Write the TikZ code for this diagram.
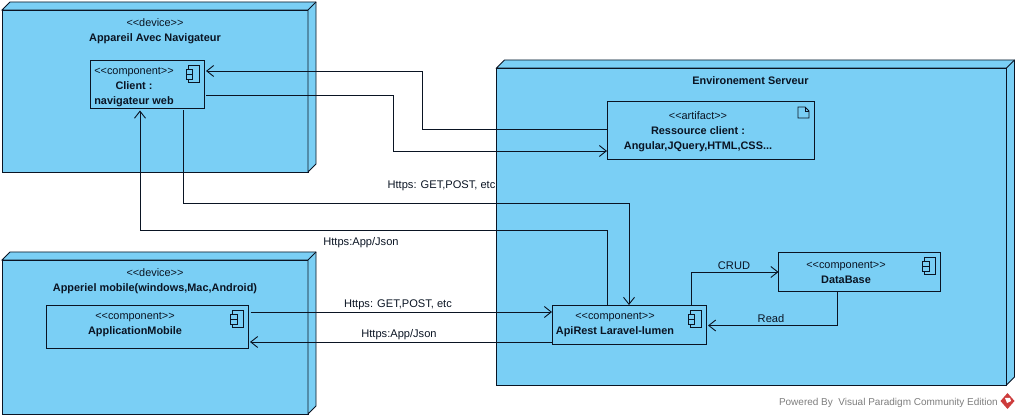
\documentclass[tikz,border=0pt]{standalone}
\usepackage{fontspec}
\setmainfont{Liberation Sans}
\usetikzlibrary{arrows.meta}
\definecolor{nodeblue}{RGB}{122, 207, 245}
\definecolor{inkdark}{RGB}{10, 20, 35}
\definecolor{creditgrey}{RGB}{125, 125, 125}
\definecolor{logored}{RGB}{205, 60, 60}
\newcommand{\stereo}[1]{<{}<#1>{}>}
\tikzset{
  block/.style={draw=inkdark, fill=nodeblue, line width=0.9pt, inner sep=0pt, outer sep=0pt},
  caption/.style={inner sep=0pt, text=inkdark, align=center, font=\fontsize{10.9}{15}\selectfont},
  linktext/.style={inner sep=0pt, text=inkdark, font=\fontsize{11.1}{13}\selectfont},
  link/.style={draw=inkdark, line width=0.9pt},
  linkto/.style={link, -{Straight Barb[length=7pt,width=11pt,line width=0.9pt]}},
}

\begin{document}
\begin{tikzpicture}[x=1pt, y=-1pt]
            \useasboundingbox (0,0) rectangle (1020,419);

            % Devices
            \node[block, minimum width=306pt, minimum height=162pt] (devA) at (155,91) {};
            \node[block, minimum width=306pt, minimum height=154pt] (devB) at (155,337) {};
            \node[block, minimum width=510pt, minimum height=317pt] (server) at (751.5,226.5) {};

            % Depth of the boxes
            \foreach \dev in {devA,devB,server} {
              \draw[block] (\dev.north west) -- ++(8,-8) -- ([shift={(8,-8)}]\dev.north east)
                -- ([shift={(8,-8)}]\dev.south east) -- (\dev.south east) -- (\dev.north east) -- cycle;
              \draw[link] (\dev.north east) -- ++(8,-8);
            }

            % Components
            \node[block, minimum width=114pt, minimum height=48pt] (client) at (147,84) {};
            \node[block, minimum width=202pt, minimum height=43pt] (mobile) at (147.5,326.5) {};
            \node[block, minimum width=207pt, minimum height=58pt] (artifact) at (710.5,130) {};
            \node[block, minimum width=154pt, minimum height=39pt] (api) at (629,324.5) {};
            \node[block, minimum width=162pt, minimum height=39pt] (database) at (859.5,272) {};

            % Component icons
            \foreach \comp in {client,mobile,api,database} {
              \draw[block] ([shift={(-16,5)}]\comp.north east) rectangle ++(11,17);
              \draw[block] ([shift={(-18,9)}]\comp.north east) rectangle ++(6.5,5);
              \draw[block] ([shift={(-18,14)}]\comp.north east) rectangle ++(6.5,5);
            }

            % Artifact icon
            \draw[block] ([shift={(-16,6)}]artifact.north east) -- ++(7,0) -- ++(4,4)
              -- ++(0,7) -- ++(-11,0) -- cycle;
            \draw[link] ([shift={(-9,6)}]artifact.north east) -- ++(0,4) -- ++(4,0);

            % Captions
            \node[caption] (devAcap) at (155,31) {\stereo{device}\\ \textbf{Appareil Avec Navigateur}};
            \node[caption] (clientcap) at (134,87.5) {\stereo{component}\\ \textbf{Client :}\\ \textbf{navigateur web}};
            \node[caption] (devBcap) at (155,281) {\stereo{device}\\ \textbf{Apperiel mobile(windows,Mac,Android)}};
            \node[caption] (mobilecap) at (135,325) {\stereo{component}\\ \textbf{ApplicationMobile}};
            \node[caption] (servercap) at (750.5,81) {\textbf{Environement Serveur}};
            \node[caption] (artifactcap) at (698,131.5) {\stereo{artifact}\\ \textbf{Ressource client :}\\ \textbf{Angular,JQuery,HTML,CSS...}};
            \node[caption] (apicap) at (615,325) {\stereo{component}\\ \textbf{ApiRest Laravel-lumen}};
            \node[caption] (databasecap) at (846,272.5) {\stereo{component}\\ \textbf{DataBase}};

            % Connectors
            \draw[linkto] ([yshift=1pt]artifact.west) -- ++(-185,0) |- ([xshift=2pt,yshift=13pt]client.east);
            \draw[linkto] ([xshift=2pt,yshift=-11pt]client.east) -- ++(187,0) |- ([yshift=-21pt]artifact.west);
            \draw[linkto] ([xshift=36pt,yshift=-2.5pt]client.south) -- ++(0,92.5) -| (api.north);
            \draw[linkto] ([xshift=-22pt]api.north) -- ++(0,-75) -| ([xshift=-7pt,yshift=-2.5pt]client.south);
            \draw[linkto] ([xshift=2pt,yshift=14.5pt]mobile.east) -- ([yshift=12.5pt]api.west);
            \draw[linkto] ([yshift=-17.5pt]api.west) -- ([xshift=1.5pt,yshift=-15.5pt]mobile.east);
            \draw[linkto] ([xshift=62pt]api.north) |- (database.west);
            \draw[linkto] ([xshift=-22.5pt]database.south) |- ([xshift=2pt,yshift=-1pt]api.east);

            % Connector labels
            \node[linktext] (getA) at (441.5,186) {Https: GET,POST, etc};
            \node[linktext] (jsonA) at (361,243) {Https:App/Json};
            \node[linktext] (getB) at (398,305) {Https: GET,POST, etc};
            \node[linktext] (jsonB) at (399,335) {Https:App/Json};
            \node[linktext] (crud) at (734,266) {CRUD};
            \node[linktext] (read) at (771,319) {Read};

            % Credit
            \node[linktext, text=creditgrey, font=\fontsize{10}{12}\selectfont, anchor=east] (credit) at (998,403) {Powered By\ \ Visual Paradigm Community Edition};
            \fill[logored] (1007.5,393) -- (1014.5,401) -- (1007.5,409) -- (1000.5,401) -- cycle;
            \fill[white] (1005,398) -- (1010,398) -- (1011,401) -- (1007,403) -- cycle;
          \end{tikzpicture}
\end{document}
